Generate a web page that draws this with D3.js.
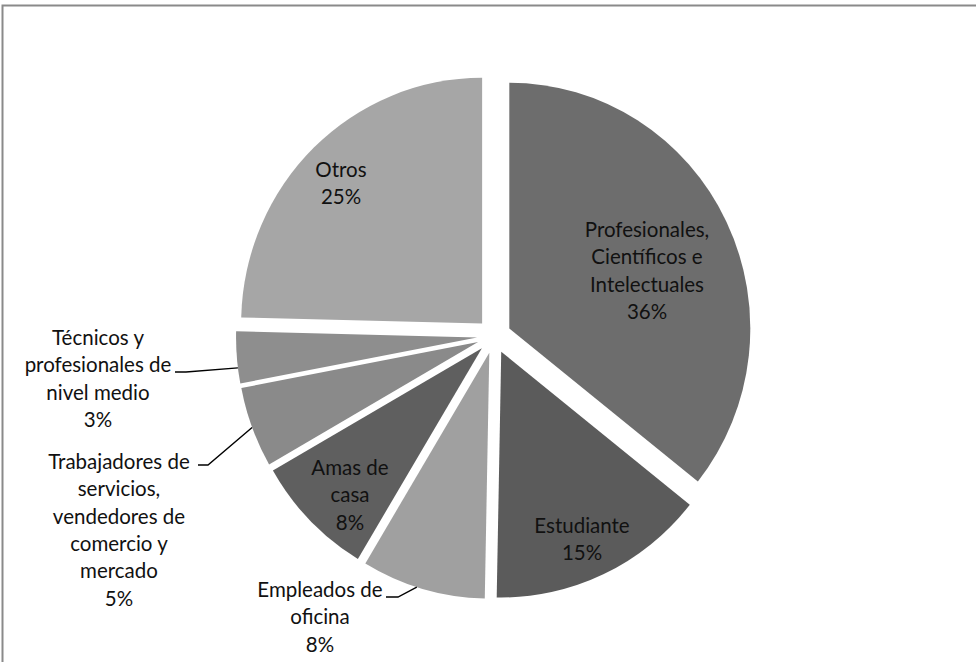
<!DOCTYPE html>
<html>
<head>
<meta charset="utf-8">
<script src="https://cdn.jsdelivr.net/npm/d3@7"></script>
<style>
  html, body { margin: 0; padding: 0; background: #ffffff; }
  svg { display: block; }
  text { font-family: Lato, "Open Sans", sans-serif; fill: #111111; }
</style>
</head>
<body>
<svg id="chart" width="976" height="662"></svg>
<script>
// ---- data ----
const categories = [
  "Profesionales, Científicos e Intelectuales",
  "Estudiante",
  "Empleados de oficina",
  "Amas de casa",
  "Trabajadores de servicios, vendedores de comercio y mercado",
  "Técnicos y profesionales de nivel medio",
  "Otros"
];
const values = [35.7, 14.6, 8.3, 8.1, 5.3, 3.4, 24.6];
const labelLines = [
  ["Profesionales,", "Científicos e", "Intelectuales"],
  ["Estudiante"],
  ["Empleados de", "oficina"],
  ["Amas de", "casa"],
  ["Trabajadores de", "servicios,", "vendedores de", "comercio y", "mercado"],
  ["Técnicos y", "profesionales de", "nivel medio"],
  ["Otros"]
];

// ---- styles / layout ----
const fills = ["#6d6d6d", "#5b5b5b", "#a0a0a0", "#5f5f5f", "#8a8a8a", "#8e8e8e", "#a6a6a6"];
const cx = 494, cy = 336, r = 241, sy = 1.02, explode = 17;
const lineH = 27.3;
const fontSize = 20.5;
// label block: center x, first line center y
const labelLayout = [
  { x: 647, y: 230 },
  { x: 582, y: 526 },
  { x: 320, y: 590 },
  { x: 350, y: 468 },
  { x: 119, y: 462 },
  { x: 98,  y: 338 },
  { x: 341, y: 170 }
];
// leader lines (label-side start, elbow, attach fraction within slice); null = inside label
const leaderLayout = [
  null, null,
  { x0: 386, y0: 597, x1: 398, y1: 597, at: 0.55 },
  null,
  { x0: 198, y0: 465, x1: 208, y1: 465, at: 0.5 },
  { x0: 175, y0: 372, x1: 186, y1: 372, at: 0.3 },
  null
];

const svg = d3.select("#chart");

// frame
svg.append("rect")
  .attr("x", 2.5).attr("y", 5.5)
  .attr("width", 1000).attr("height", 700)
  .attr("fill", "none")
  .attr("stroke", "#8a8a8a")
  .attr("stroke-width", 2);

const color = d3.scaleOrdinal().domain(categories).range(fills);
const total = d3.sum(values);

const pie = d3.pie().sort(null).value(d => d.value);
const arcs = pie(categories.map((c, i) => ({ cat: c, value: values[i], i })));
const arc = d3.arc().innerRadius(0).outerRadius(r);

const g = svg.append("g").attr("transform", `translate(${cx},${cy}) scale(1,${sy})`);
g.selectAll("path")
  .data(arcs)
  .join("path")
  .attr("d", arc)
  .attr("fill", d => color(d.data.cat))
  .attr("transform", d => {
    const m = (d.startAngle + d.endAngle) / 2;
    return `translate(${explode * Math.sin(m)},${-explode * Math.cos(m)})`;
  });

// leader lines
arcs.forEach((d, i) => {
  const L = leaderLayout[i];
  if (!L) return;
  const m = (d.startAngle + d.endAngle) / 2;
  const a = d.startAngle + (d.endAngle - d.startAngle) * L.at;
  const ex = cx + explode * Math.sin(m) + r * Math.sin(a);
  const ey = cy - (explode * Math.cos(m) + r * Math.cos(a)) * sy;
  svg.append("polyline")
    .attr("points", `${L.x0},${L.y0} ${L.x1},${L.y1} ${ex},${ey}`)
    .attr("fill", "none")
    .attr("stroke", "#000")
    .attr("stroke-width", 1.4);
});

// labels
arcs.forEach((d, i) => {
  const lines = labelLines[i].concat([Math.round(d.data.value / total * 100) + "%"]);
  const pos = labelLayout[i];
  const t = svg.append("text")
    .attr("text-anchor", "middle")
    .attr("font-size", fontSize);
  lines.forEach((ln, k) => {
    t.append("tspan")
      .attr("x", pos.x)
      .attr("y", pos.y + k * lineH)
      .attr("dy", "0.35em")
      .text(ln);
  });
});
</script>
</body>
</html>
